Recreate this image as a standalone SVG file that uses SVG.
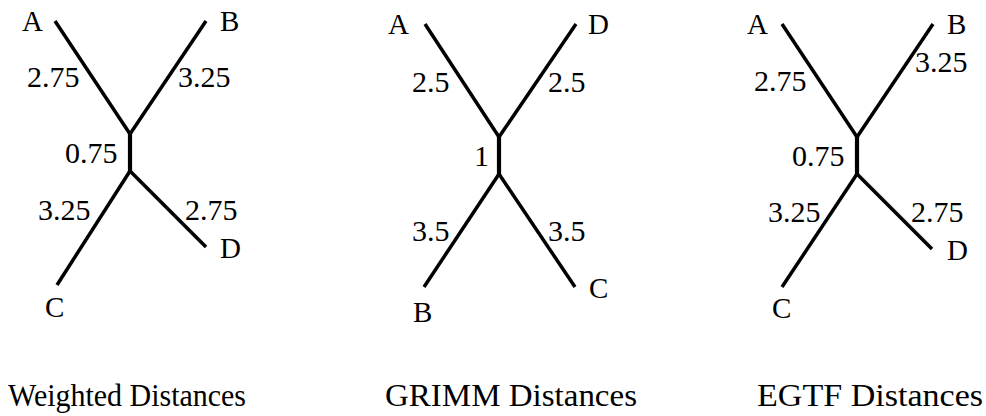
<svg xmlns="http://www.w3.org/2000/svg" width="986" height="416" viewBox="0 0 986 416">
<style>
.e{stroke:#000;stroke-width:3.5;stroke-linecap:butt;fill:none}
.m{stroke:#000;stroke-width:4.2;fill:none}
text{font-family:'Liberation Serif','DejaVu Serif',serif;font-size:29px;fill:#000}
text.n{font-family:'Liberation Serif','DejaVu Serif',serif;font-size:30px}
text.t{font-family:'Liberation Serif','DejaVu Serif',serif;font-size:32px}
</style>
<rect width="986" height="416" fill="#fff"/>
<g id="connectors">
<g id="tree1-edges">
<line class="e" x1="55" y1="21" x2="130" y2="134"/>
<line class="e" x1="206" y1="21" x2="130" y2="134"/>
<line class="m" x1="130" y1="133" x2="130" y2="172"/>
<line class="e" x1="130" y1="171" x2="57" y2="285"/>
<line class="e" x1="130" y1="171" x2="206" y2="247"/>
</g>
<g id="tree2-edges">
<line class="e" x1="425" y1="24" x2="499" y2="137"/>
<line class="e" x1="576" y1="24" x2="499" y2="137"/>
<line class="m" x1="499" y1="136" x2="499" y2="175"/>
<line class="e" x1="499" y1="174" x2="424" y2="287"/>
<line class="e" x1="499" y1="174" x2="575" y2="287"/>
</g>
<g id="tree3-edges">
<line class="e" x1="782" y1="24" x2="857" y2="137"/>
<line class="e" x1="933" y1="24" x2="857" y2="137"/>
<line class="m" x1="857" y1="136" x2="857" y2="175"/>
<line class="e" x1="857" y1="174" x2="782" y2="287"/>
<line class="e" x1="857" y1="174" x2="932" y2="249"/>
</g>
</g>
<g id="tree1">
<g id="t1-A"><text x="22" y="31">A</text></g>
<g id="t1-B"><text x="220" y="31">B</text></g>
<g id="t1-C"><text x="45" y="317">C</text></g>
<g id="t1-D"><text x="220" y="258">D</text></g>
<g id="t1-labels">
<text class="n" x="27" y="87">2.75</text>
<text class="n" x="178" y="87">3.25</text>
<text class="n" x="65" y="163">0.75</text>
<text class="n" x="38" y="220">3.25</text>
<text class="n" x="185" y="220">2.75</text>
</g>
</g>
<g id="tree2">
<g id="t2-A"><text x="388" y="34">A</text></g>
<g id="t2-D"><text x="588" y="34">D</text></g>
<g id="t2-C"><text x="589" y="298">C</text></g>
<g id="t2-B"><text x="413" y="322">B</text></g>
<g id="t2-labels">
<text class="n" x="412" y="92">2.5</text>
<text class="n" x="548" y="92">2.5</text>
<text class="n" x="474" y="166">1</text>
<text class="n" x="412" y="241">3.5</text>
<text class="n" x="548" y="241">3.5</text>
</g>
</g>
<g id="tree3">
<g id="t3-A"><text x="747" y="34">A</text></g>
<g id="t3-B"><text x="947" y="34">B</text></g>
<g id="t3-C"><text x="772" y="318">C</text></g>
<g id="t3-D"><text x="947" y="260">D</text></g>
<g id="t3-labels">
<text class="n" x="754" y="91">2.75</text>
<text class="n" x="915" y="72">3.25</text>
<text class="n" x="792" y="166">0.75</text>
<text class="n" x="768" y="222">3.25</text>
<text class="n" x="911" y="222">2.75</text>
</g>
</g>
<g id="titles">
<text class="t" x="8" y="406" textLength="238" lengthAdjust="spacingAndGlyphs">Weighted Distances</text>
<text class="t" x="385" y="406" textLength="252" lengthAdjust="spacingAndGlyphs">GRIMM Distances</text>
<text class="t" x="757" y="406" textLength="226" lengthAdjust="spacingAndGlyphs">EGTF Distances</text>
</g>
</svg>
